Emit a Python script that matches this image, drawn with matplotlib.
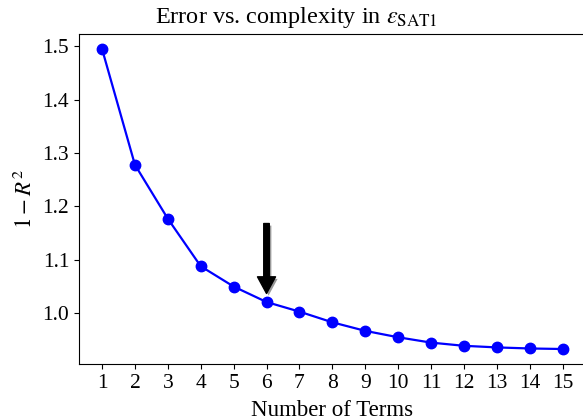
import matplotlib
matplotlib.use("Agg")
from matplotlib import pyplot as plt
from matplotlib import patheffects as pe

n_terms = [1, 2, 3, 4, 5, 6, 7, 8, 9, 10, 11, 12, 13, 14, 15]
err = [1.495, 1.278, 1.177, 1.088, 1.050, 1.021, 1.003, 0.983, 0.967,
       0.955, 0.945, 0.939, 0.936, 0.934, 0.933]

plt.rcParams["font.family"] = "serif"
plt.rcParams["font.serif"] = ["Liberation Serif", "DejaVu Serif"]
plt.rcParams["mathtext.fontset"] = "stix"

fig = plt.figure(figsize=(5.83, 4.2), dpi=100)
ax = fig.add_axes([0.1355, 0.1333, 0.869, 0.786])

ax.plot(n_terms, err, color="blue", marker="o", markersize=7.5, linewidth=1.6)

# arrow marking the chosen number of terms
ax.annotate("", xy=(6, 1.037), xytext=(6, 1.168),
            arrowprops=dict(facecolor="black", edgecolor="black", width=4,
                            headwidth=13, headlength=12, shrink=0,
                            path_effects=[pe.withSimplePatchShadow(offset=(1.5, -1.5), alpha=0.4)]))

ax.set_xticks(n_terms)
ax.set_yticks([1.0, 1.1, 1.2, 1.3, 1.4, 1.5])
ax.tick_params(labelsize=15.5)
ax.set_xlabel("Number of Terms", fontsize=16.5, labelpad=5)
ax.set_ylabel("$1-R^2$", fontsize=16.5, labelpad=4)
ax.set_title(r"Error vs. complexity in $\varepsilon_{\mathrm{SAT1}}$", fontsize=17.5,
             x=0.428, pad=8)

fig.savefig("out.png", dpi=100)
